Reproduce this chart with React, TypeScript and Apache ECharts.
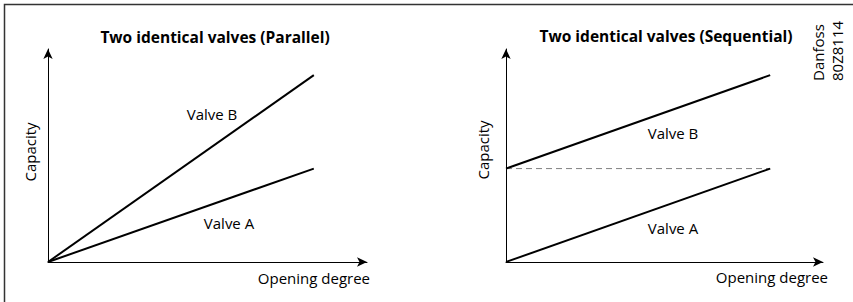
import React, { useEffect, useRef } from "react";
import * as echarts from "echarts";

// Normalised opening degree (x) and capacity (y) of the straight valve lines
const openingDegree = [0, 1];
const parallelValveA = [0, 0.5];
const parallelValveB = [0, 1];
const sequentialValveA = [0, 0.5];
const sequentialValveB = [0.5, 1];
const sequentialThreshold = [0.5, 0.5];

const titles = ["Two identical valves (Parallel)", "Two identical valves (Sequential)"];
const seriesNames = ["Valve A", "Valve B"];
const xAxisName = "Opening degree";
const yAxisName = "Capacity";
const stamp = ["Danfoss", "80Z8114"];

const FONT = "'Open Sans', 'Noto Sans', sans-serif";

const pts = (xs: number[], ys: number[]) => xs.map((x, i) => [x, ys[i]]);

export default function App() {
  const ref = useRef<HTMLDivElement>(null);
  useEffect(() => {
    document.body.style.margin = "0";
    const chart = echarts.init(ref.current!, null, { renderer: "svg" });
    const axisLine = {
      show: true,
      symbol: ["none", "arrow"],
      symbolSize: [7, 10],
      lineStyle: { color: "#000", width: 1 },
    };
    const xAxisBase = {
      type: "value" as const,
      min: 0,
      max: 1.2,
      axisLine,
      axisTick: { show: false },
      axisLabel: { show: false },
      splitLine: { show: false },
    };
    const yAxisBase = {
      type: "value" as const,
      min: 0,
      max: 1.14,
      axisLine,
      axisTick: { show: false },
      axisLabel: { show: false },
      splitLine: { show: false },
    };
    const solid = { color: "#000", width: 2 };
    const lineSeries = (name: string, idx: number, ys: number[], style: any) => ({
      name,
      type: "line" as const,
      xAxisIndex: idx,
      yAxisIndex: idx,
      data: pts(openingDegree, ys),
      showSymbol: false,
      silent: true,
      lineStyle: style,
      itemStyle: { color: style.color },
    });
    const txt = (
      text: string,
      x: number,
      y: number,
      opts: { bold?: boolean; size?: number; align?: string; rot?: number } = {}
    ) => ({
      type: "text",
      x,
      y,
      rotation: opts.rot ?? 0,
      silent: true,
      style: {
        text,
        fill: "#000",
        font: `${opts.bold ? "bold " : ""}${opts.size ?? 15}px ${FONT}`,
        align: opts.align ?? "center",
        verticalAlign: "middle",
      },
    });
    chart.setOption({
      animation: false,
      backgroundColor: "#fff",
      grid: [
        { left: 48, top: 49, width: 319, height: 213 },
        { left: 506, top: 49, width: 317, height: 213 },
      ],
      xAxis: [
        { ...xAxisBase, gridIndex: 0 },
        { ...xAxisBase, gridIndex: 1 },
      ],
      yAxis: [
        { ...yAxisBase, gridIndex: 0 },
        { ...yAxisBase, gridIndex: 1 },
      ],
      series: [
        lineSeries(seriesNames[0], 0, parallelValveA, solid),
        lineSeries(seriesNames[1], 0, parallelValveB, solid),
        lineSeries("Threshold", 1, sequentialThreshold, { color: "#808080", width: 1, type: [6, 4] }),
        lineSeries(seriesNames[0], 1, sequentialValveA, solid),
        lineSeries(seriesNames[1], 1, sequentialValveB, solid),
      ],
      graphic: [
        {
          type: "polyline",
          silent: true,
          shape: { points: [[4.5, 302], [4.5, 4.5], [853, 4.5]] },
          style: { stroke: "#333", lineWidth: 1.5, fill: "none" },
        },
        txt(titles[0], 215, 37, { bold: true, size: 15.5 }),
        txt(titles[1], 666, 36, { bold: true, size: 15.5 }),
        txt(seriesNames[1], 212, 114),
        txt(seriesNames[0], 229, 223),
        txt(seriesNames[1], 673, 133),
        txt(seriesNames[0], 673, 228),
        txt(yAxisName, 30, 152, { rot: Math.PI / 2 }),
        txt(yAxisName, 483, 150, { rot: Math.PI / 2 }),
        txt(xAxisName, 370, 278, { align: "right" }),
        txt(xAxisName, 828, 277, { align: "right" }),
        txt(stamp[0], 818, 81, { align: "left", rot: Math.PI / 2 }),
        txt(stamp[1], 837, 81, { align: "left", rot: Math.PI / 2 }),
      ],
    });
    return () => chart.dispose();
  }, []);
  return (
    <div
      ref={ref}
      style={{ position: "absolute", left: 0, top: 0, width: 853, height: 302 }}
    />
  );
}
